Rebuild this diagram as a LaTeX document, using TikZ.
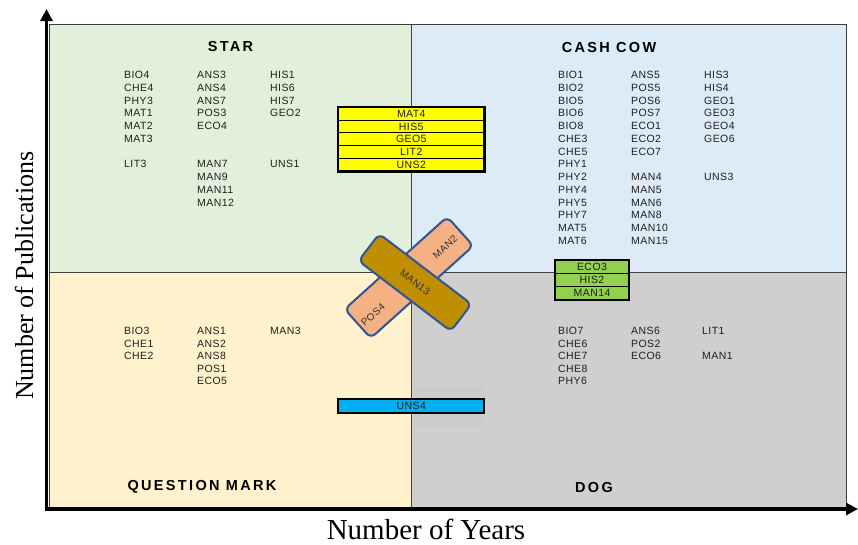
\documentclass[tikz,border=0pt]{standalone}
\usepackage{fontspec}
\setmainfont{Liberation Serif}
\setsansfont{Liberation Sans}
\newfontfamily\lblfont[LetterSpace=4]{Liberation Sans}
\newfontfamily\ttlfont[LetterSpace=16]{Liberation Sans}
\usetikzlibrary{arrows.meta}
\definecolor{qgreen}{HTML}{E2EFDA}
\definecolor{qblue}{HTML}{DDEBF7}
\definecolor{qyellow}{HTML}{FFF2CC}
\definecolor{qgray}{HTML}{D0CECE}
\definecolor{shadowgray}{HTML}{CCCCCC}
\definecolor{quadedge}{HTML}{404040}
\definecolor{bandsalmon}{HTML}{F4B183}
\definecolor{bandbrown}{HTML}{BF8F00}
\definecolor{bandedge}{HTML}{2F5597}
\definecolor{boxyellow}{HTML}{FFFF00}
\definecolor{boxgreen}{HTML}{92D050}
\definecolor{boxblue}{HTML}{00B0F0}
\definecolor{txtgray}{HTML}{1F1F1F}
\tikzset{
  lbl/.style={anchor=west, inner sep=0pt, text=txtgray, font=\lblfont\fontsize{10.5}{12}\selectfont},
  ttl/.style={inner sep=0pt, text=black, font=\ttlfont\bfseries\fontsize{14.5}{16}\selectfont},
  cellbox/.style={draw=black, line width=0.8pt, inner sep=0pt, text=txtgray, font=\lblfont\fontsize{10.5}{12}\selectfont},
  band/.style={draw=bandedge, line width=2pt, rounded corners=6pt, inner sep=0pt},
  bandtxt/.style={inner sep=0pt, text=black!80, font=\lblfont\fontsize{10}{12}\selectfont},
  axisline/.style={line width=3.5pt, -{Triangle[width=12pt,length=12pt]}},
  quadline/.style={draw=quadedge, line width=0.8pt}
}
\newcommand\itemcol[4]{%
  \foreach \t [count=\i from 0] in {#4}{%
    \if\relax\detokenize\expandafter{\t}\relax\else
      \node[lbl] (n\t) at (#1,#2+\i*#3) {\t};
    \fi}}
\begin{document}
\begin{tikzpicture}[x=1pt,y=-1pt]
\useasboundingbox (0,0) rectangle (858,544);
% quadrants
\fill[qgreen] (49,24) rectangle (411,272);
\fill[qblue] (411,24) rectangle (846,272);
\fill[qyellow] (49,272) rectangle (411,509);
\fill[qgray] (411,272) rectangle (846,509);
\fill[shadowgray] (411.7,386) rectangle (484,425.7);
\draw[quadline] (49,24) rectangle (846,509);
\draw[quadline] (411,24) -- (411,509);
\draw[quadline] (49,272) -- (846,272);
% axes
\draw[axisline] (46.5,510.5) -- (46.5,9);
\draw[axisline] (44.75,509) -- (858,509);
% titles
\node[ttl] (star) at (230.5,47) {STAR};
\node[ttl] (cashcow) at (609,47.5) {CASH COW};
\node[ttl] (qmark) at (202,487) {QUESTION MARK};
\node[ttl] (dog) at (594,487) {DOG};
% top-left
\itemcol{124}{75}{12.75}{BIO4,CHE4,PHY3,MAT1,MAT2,MAT3,,LIT3}
\itemcol{197}{75}{12.75}{ANS3,ANS4,ANS7,POS3,ECO4,,,MAN7,MAN9,MAN11,MAN12}
\itemcol{270}{75}{12.75}{HIS1,HIS6,HIS7,GEO2,,,,UNS1}
% top-right
\itemcol{558}{75}{12.75}{BIO1,BIO2,BIO5,BIO6,BIO8,CHE3,CHE5,PHY1,PHY2,PHY4,PHY5,PHY7,MAT5,MAT6}
\itemcol{631}{75}{12.75}{ANS5,POS5,POS6,POS7,ECO1,ECO2,ECO7,,MAN4,MAN5,MAN6,MAN8,MAN10,MAN15}
\itemcol{704}{75}{12.75}{HIS3,HIS4,GEO1,GEO3,GEO4,GEO6,,,UNS3}
% bottom-left
\itemcol{124}{331}{12.5}{BIO3,CHE1,CHE2}
\itemcol{197}{331}{12.5}{ANS1,ANS2,ANS8,POS1,ECO5}
\itemcol{270}{331}{12.5}{MAN3}
% bottom-right
\itemcol{558}{331}{12.5}{BIO7,CHE6,CHE7,CHE8,PHY6}
\itemcol{631}{331}{12.5}{ANS6,POS2,ECO6}
\itemcol{702}{331}{12.5}{LIT1,,MAN1}
% yellow stack
\foreach \t [count=\i from 0] in {MAT4,HIS5,GEO5,LIT2,UNS2}
  \node[cellbox, fill=boxyellow, minimum width=145.5pt, minimum height=12.74pt] (y\t) at (411.25,113.67+\i*12.74) {\t};
\draw[line width=2.5pt] (yMAT4.north west) rectangle (yUNS2.south east);
% green stack
\foreach \t [count=\i from 0] in {ECO3,HIS2,MAN14}
  \node[cellbox, fill=boxgreen, minimum width=72.6pt, minimum height=13.1pt] (g\t) at (592,266.55+\i*13.1) {\t};
\draw[line width=2pt] (gECO3.north west) rectangle (gMAN14.south east);
% blue box
\node[cellbox, line width=2pt, fill=boxblue, minimum width=146pt, minimum height=14.3pt] (bUNS4) at (411.3,406.2) {UNS4};
% crossed bands
\node[band, fill=bandsalmon, minimum width=138pt, minimum height=39pt, rotate=42] (salmon) at (409,277.5) {};
\node[bandtxt, rotate=42] (tMAN2) at (445,247) {MAN2};
\node[bandtxt, rotate=42] (tPOS4) at (373,315) {POS4};
\node[band, fill=bandbrown, minimum width=116pt, minimum height=34pt, rotate=-37.3, text=black!80, font=\lblfont\fontsize{10}{12}\selectfont] (brown) at (415,282.5) {MAN13};
% axis labels
\node[inner sep=0pt, anchor=base, font=\fontsize{29}{32}\selectfont] (xlab) at (426,539) {Number of Years};
\node[inner sep=0pt, anchor=base, rotate=90, font=\fontsize{26}{30}\selectfont] (ylab) at (33,275.7) {Number of Publications};
\end{tikzpicture}
\end{document}
